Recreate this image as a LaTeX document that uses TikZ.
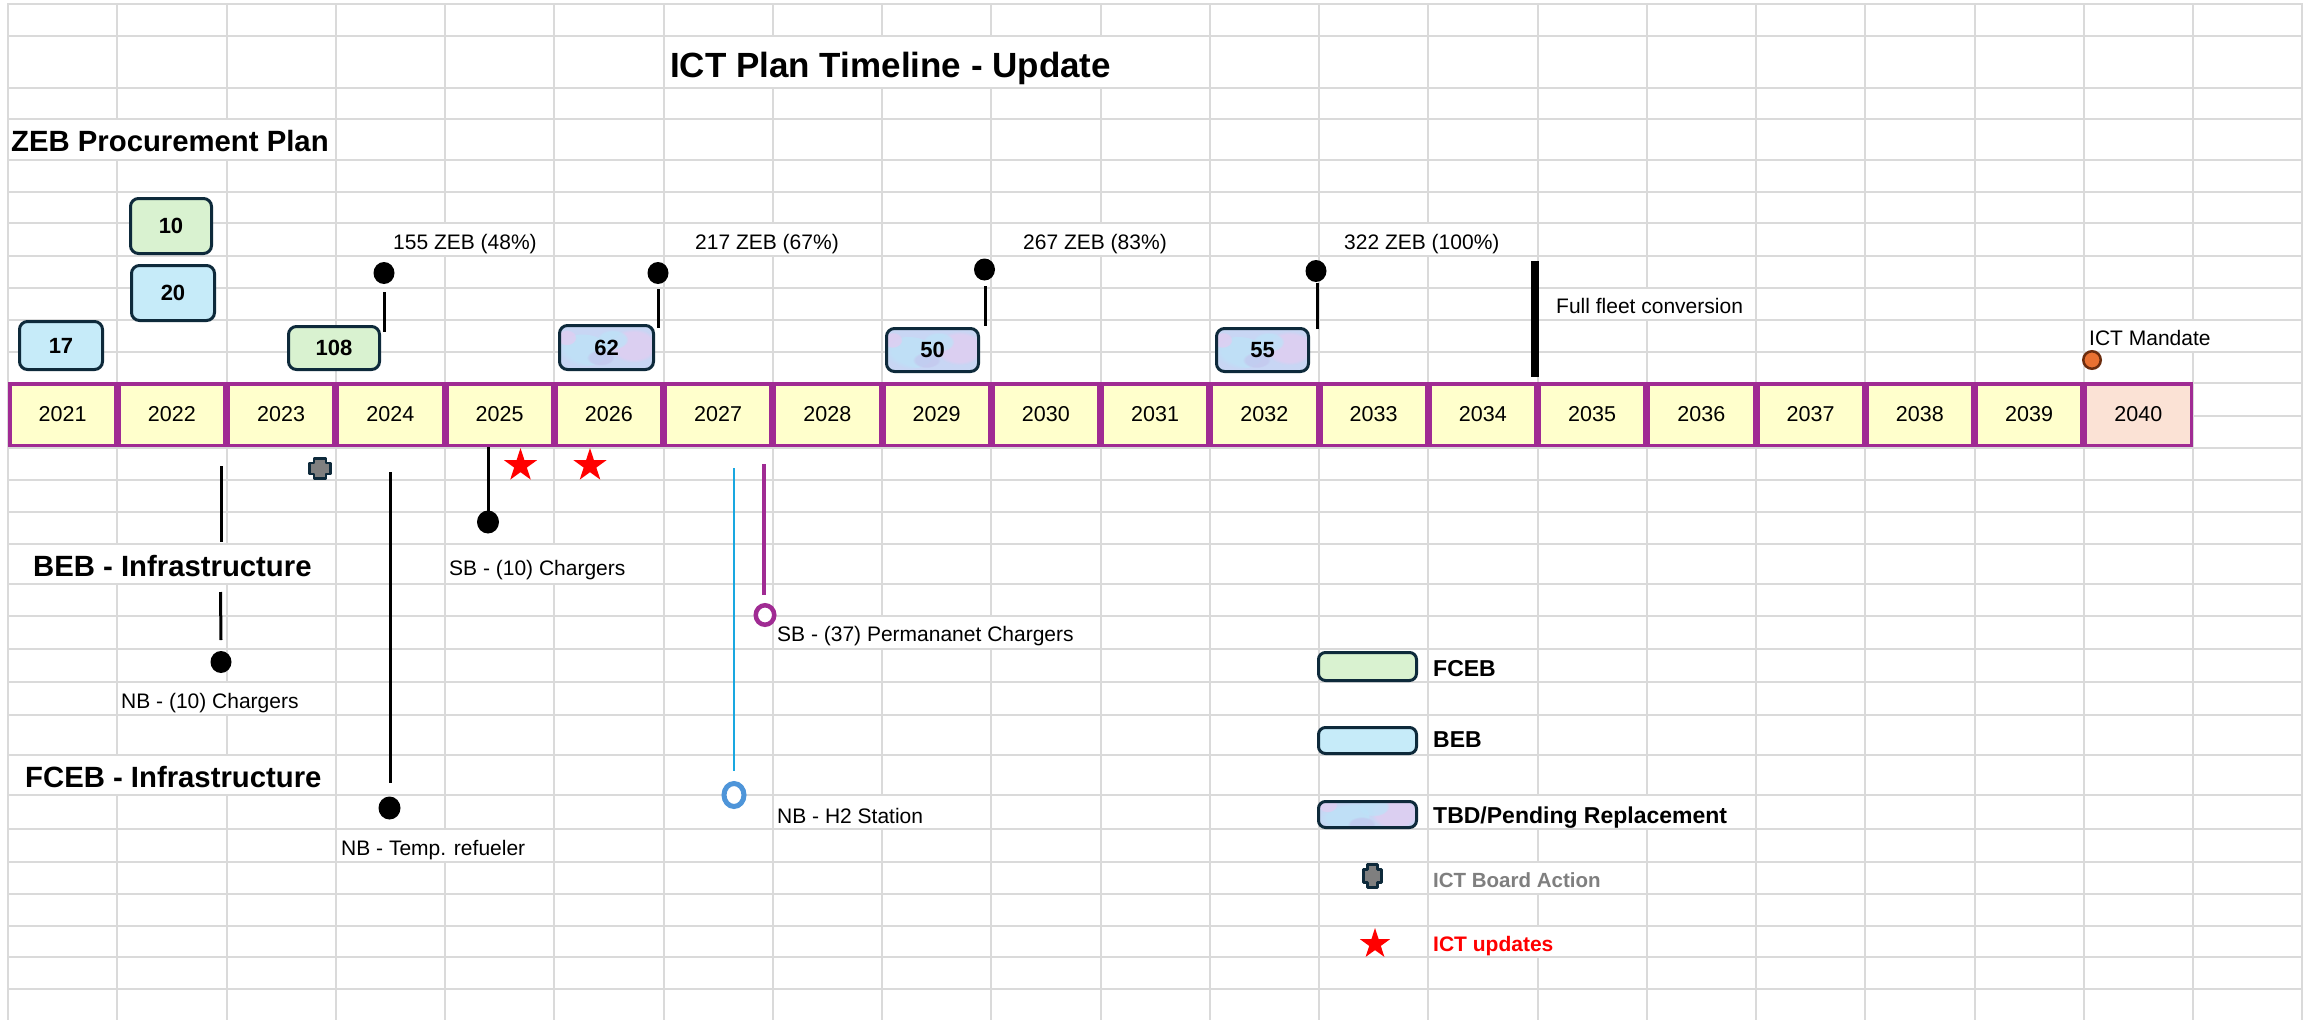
\documentclass[tikz,border=0pt]{standalone}
\usepackage{fontspec}
\setmainfont{Liberation Sans}
\usetikzlibrary{shapes.geometric,fadings}
\definecolor{gridgray}{HTML}{DADADA}
\definecolor{tlpurple}{HTML}{A02B93}
\definecolor{yrfill}{HTML}{FFFFCC}
\definecolor{peach}{HTML}{FBE2D5}
\definecolor{fcebg}{HTML}{D9F2D0}
\definecolor{bebb}{HTML}{C6EBF9}
\definecolor{boxline}{HTML}{0E2A3B}
\definecolor{tbdbase}{HTML}{C8D6F4}
\definecolor{tbdsky}{HTML}{BCE3F8}
\definecolor{tbdlav}{HTML}{E2CDF1}
\definecolor{tbdperi}{HTML}{C3C8EE}
\definecolor{mandor}{HTML}{E97132}
\definecolor{mandbr}{HTML}{6B2C0E}
\definecolor{cyanline}{HTML}{19A7E0}
\definecolor{ringblue}{HTML}{4E95D9}
\definecolor{boardgray}{HTML}{7F7F7F}
\definecolor{legray}{HTML}{7F7F7F}
\newcommand\maskcell[4]{\fill[white] (#1,{#3+1.3}) rectangle (#2,{#4-1.3});}
\newcommand\boardmark[4]{%
  \draw[boardmk] ({#1-#3*0.55},{#2-#4}) -- ({#1+#3*0.55},{#2-#4}) -- ({#1+#3*0.55},{#2-#4*0.55})
   -- ({#1+#3},{#2-#4*0.55}) -- ({#1+#3},{#2+#4*0.55}) -- ({#1+#3*0.55},{#2+#4*0.55})
   -- ({#1+#3*0.55},{#2+#4}) -- ({#1-#3*0.55},{#2+#4}) -- ({#1-#3*0.55},{#2+#4*0.55})
   -- ({#1-#3},{#2+#4*0.55}) -- ({#1-#3},{#2-#4*0.55}) -- ({#1-#3*0.55},{#2-#4*0.55}) -- cycle;}
\tikzset{
  gridln/.style={draw=gridgray, line width=2pt},
  yearbox/.style={draw=tlpurple, line width=3.5pt, fill=yrfill, inner sep=0pt,
     minimum width=105.75pt, minimum height=61.5pt, font=\fontsize{21.5}{25}\selectfont},
  zbox/.style={draw=boxline, line width=3pt, rounded corners=8pt, inner sep=0pt,
     font=\fontsize{22}{26}\selectfont\bfseries},
  blotch/.style={path fading=circle with fuzzy edge 20 percent, opacity=0.75},
  tbdfill/.style={fill=tbdbase, path picture={
     \fill[tbdsky, blotch] ([xshift=-24pt,yshift=-3pt]path picture bounding box.center) ellipse (26pt and 16pt);
     \fill[tbdlav, blotch] ([xshift=27pt,yshift=2pt]path picture bounding box.center) ellipse (24pt and 17pt);
     \fill[tbdsky, blotch] ([xshift=6pt,yshift=8pt]path picture bounding box.center) ellipse (16pt and 10pt);
     \fill[tbdperi, blotch] ([xshift=-6pt,yshift=-10pt]path picture bounding box.center) ellipse (14pt and 8pt);
     \fill[tbdlav, blotch] ([xshift=-40pt,yshift=10pt]path picture bounding box.center) ellipse (10pt and 8pt);
  }},
  ann/.style={anchor=base west, inner sep=0pt, font=\fontsize{21}{25}\selectfont},
  head/.style={anchor=base west, inner sep=0pt, font=\fontsize{29.3}{34}\selectfont\bfseries},
  legtext/.style={anchor=base west, inner sep=0pt, font=\fontsize{23}{27}\selectfont\bfseries},
  dot/.style={ellipse, fill=black, inner sep=0pt, minimum width=21pt, minimum height=22pt},
  conn/.style={line width=3pt, draw=black},
  redstar/.style={star, star points=5, star point ratio=2.618, fill=red, draw=none, inner sep=0pt},
  boardmk/.style={draw=boxline, fill=boardgray, line width=2.5pt, line join=round},
}
\begin{document}
\begin{tikzpicture}[x=1pt,y=-1pt]
\useasboundingbox[fill=white] (0,0) rectangle (2313,1020);
% grid
\foreach \k in {0,...,21} \draw[gridln] ({8+109.25*\k},3) -- ({8+109.25*\k},1020);
\foreach \yy in {4,36,88,119,160,192,223,256,288,320,352,383,416,448,480,512,544,584,616,649,682,715,755,795,829,862,894,926,957,989}
  \draw[gridln] (7,\yy) -- (2303,\yy);
% hidden gridlines under overflowing text
\maskcell{700}{1105}{36}{88}
\maskcell{100}{240}{119}{160}
\maskcell{430}{460}{223}{256}
\maskcell{760}{785}{223}{256}
\maskcell{1090}{1110}{223}{256}
\maskcell{1418}{1438}{223}{256}
\maskcell{1637}{1657}{288}{320}
\maskcell{2183}{2203}{320}{352}
\maskcell{100}{240}{544}{584}
\maskcell{544}{564}{544}{584}
\maskcell{216}{236}{682}{715}
\maskcell{100}{240}{755}{795}
\maskcell{435}{455}{829}{862}
\maskcell{870}{1000}{616}{649}
\maskcell{872}{892}{795}{829}
\maskcell{1527}{1657}{795}{829}
\maskcell{1527}{1547}{862}{894}
\maskcell{1527}{1547}{926}{957}
% title and headings
\node[anchor=base west, inner sep=0pt, font=\fontsize{35}{40}\selectfont\bfseries] (title) at (670,77) {ICT Plan Timeline - Update};
\node[head] (hzeb) at (11,151) {ZEB Procurement Plan};
\node[head] (hbeb) at (33,576) {BEB - Infrastructure};
\node[head] (hfceb) at (25,787) {FCEB - Infrastructure};
% year row
\foreach \k in {0,...,18} {
  \pgfmathtruncatemacro\yr{2021+\k}
  \node[yearbox] (y\yr) at ({62.625+109.25*\k},414.5) {\yr};
}
\node[yearbox, fill=peach] (y2040) at ({62.625+109.25*19},414.5) {2040};
% procurement boxes
\node[zbox, fill=bebb, minimum width=83pt, minimum height=48pt] (b17) at (61,345.5) {17};
\node[zbox, fill=fcebg, minimum width=81pt, minimum height=55pt] (b10) at (171,226) {10};
\node[zbox, fill=bebb, minimum width=83pt, minimum height=55pt] (b20) at (173,293) {20};
\node[zbox, fill=fcebg, minimum width=91pt, minimum height=43pt] (b108) at (334,348) {108};
\node[zbox, tbdfill, minimum width=94pt, minimum height=44pt] (b62) at (606.5,347.5) {62};
\node[zbox, tbdfill, minimum width=92pt, minimum height=43pt] (b50) at (932.5,350) {50};
\node[zbox, tbdfill, minimum width=92pt, minimum height=43pt] (b55) at (1262.5,350) {55};
% milestone connectors above the year row
\node[dot] (d155) at (384,273) {};
\coordinate (c155a) at (384,292); \coordinate (c155b) at (384,332);
\draw[conn] (c155a) -- (c155b);
\node[ann] (t155) at (393,249) {155 ZEB (48\%)};
\node[dot] (d217) at (658,273) {};
\coordinate (c217a) at (658,289); \coordinate (c217b) at (658,328);
\draw[conn] (c217a) -- (c217b);
\node[ann] (t217) at (695,249) {217 ZEB (67\%)};
\node[dot] (d267) at (984.5,269.5) {};
\coordinate (c267a) at (985,286); \coordinate (c267b) at (985,326);
\draw[conn] (c267a) -- (c267b);
\node[ann] (t267) at (1023,249) {267 ZEB (83\%)};
\node[dot] (d322) at (1316,271) {};
\coordinate (c322a) at (1317,283); \coordinate (c322b) at (1317,329);
\draw[conn] (c322a) -- (c322b);
\node[ann] (t322) at (1344,249) {322 ZEB (100\%)};
\coordinate (fulla) at (1535,261); \coordinate (fullb) at (1535,377);
\draw[line width=8pt] (fulla) -- (fullb);
\node[ann] (tfull) at (1556,313) {Full fleet conversion};
\node[circle, fill=mandor, draw=mandbr, line width=2.5pt, inner sep=0pt, minimum size=17.5pt] (dmand) at (2092,360) {};
\node[ann] (tmand) at (2089,345) {ICT Mandate};
% infrastructure below the year row
\coordinate (l22a) at (221,466); \coordinate (l22b) at (221,542);
\draw[conn] (l22a) -- (l22b);
\coordinate (l22c) at (220.5,592); \coordinate (l22d) at (221,640);
\draw[conn] (l22c) -- (l22d);
\node[dot] (d22) at (221,662) {};
\node[ann] (tnb10) at (121,708) {NB - (10) Chargers};
\boardmark{320}{468.5}{10.5}{10}
\coordinate (l24a) at (390,472); \coordinate (l24b) at (390,783);
\draw[conn] (l24a) -- (l24b);
\node[dot, minimum width=22pt, minimum height=23pt] (d24) at (389.5,808) {};
\node[ann] (tnbtemp) at (341,855) {NB - Temp. refueler};
\node[dot, minimum width=22pt, minimum height=23pt] (d25) at (488,522) {};
\coordinate (l25a) at (488,447);
\draw[conn] (l25a) -- (d25.center);
\node[ann] (tsb10) at (449,575) {SB - (10) Chargers};
\node[redstar, minimum size=35pt] (s1) at (520.5,465.5) {};
\node[redstar, minimum size=35pt] (s2) at (590,465.5) {};
\node[ellipse, draw=ringblue, fill=white, line width=5pt, inner sep=0pt, minimum width=20pt, minimum height=23pt] (rh2) at (734,795) {};
\coordinate (lh2a) at (733.5,468);
\draw[draw=cyanline, line width=2pt] (lh2a) -- (733.5,771);
\node[ann] (th2) at (777,823) {NB - H2 Station};
\node[ellipse, draw=tlpurple, fill=white, line width=4.5pt, inner sep=0pt, minimum width=18.5pt, minimum height=19.5pt] (rsb37) at (765,615) {};
\coordinate (lsba) at (764,464);
\draw[draw=tlpurple, line width=3.5pt] (lsba) -- (764,595);
\node[ann] (tsb37) at (777,641) {SB - (37) Permananet Chargers};
% legend
\node[zbox, fill=fcebg, rounded corners=7pt, minimum width=98pt, minimum height=28pt] (lgf) at (1367.5,666.5) {};
\node[legtext] (lgft) at (1433,676) {FCEB};
\node[zbox, fill=bebb, rounded corners=7pt, minimum width=98pt, minimum height=26pt] (lgb) at (1367.5,740.5) {};
\node[legtext] (lgbt) at (1433,747) {BEB};
\node[zbox, tbdfill, rounded corners=7pt, minimum width=98pt, minimum height=26pt] (lgt) at (1367.5,814.5) {};
\node[legtext] (lgtt) at (1433,823) {TBD/Pending Replacement};
\boardmark{1372.5}{876}{9}{11.5}
\node[legtext, text=legray, font=\fontsize{20.5}{25}\selectfont\bfseries] (lgat) at (1433,887) {ICT Board Action};
\node[redstar, minimum size=32pt] (lgs) at (1375,944) {};
\node[legtext, text=red, font=\fontsize{21}{25}\selectfont\bfseries] (lgut) at (1433,951) {ICT updates};
\end{tikzpicture}
\end{document}
